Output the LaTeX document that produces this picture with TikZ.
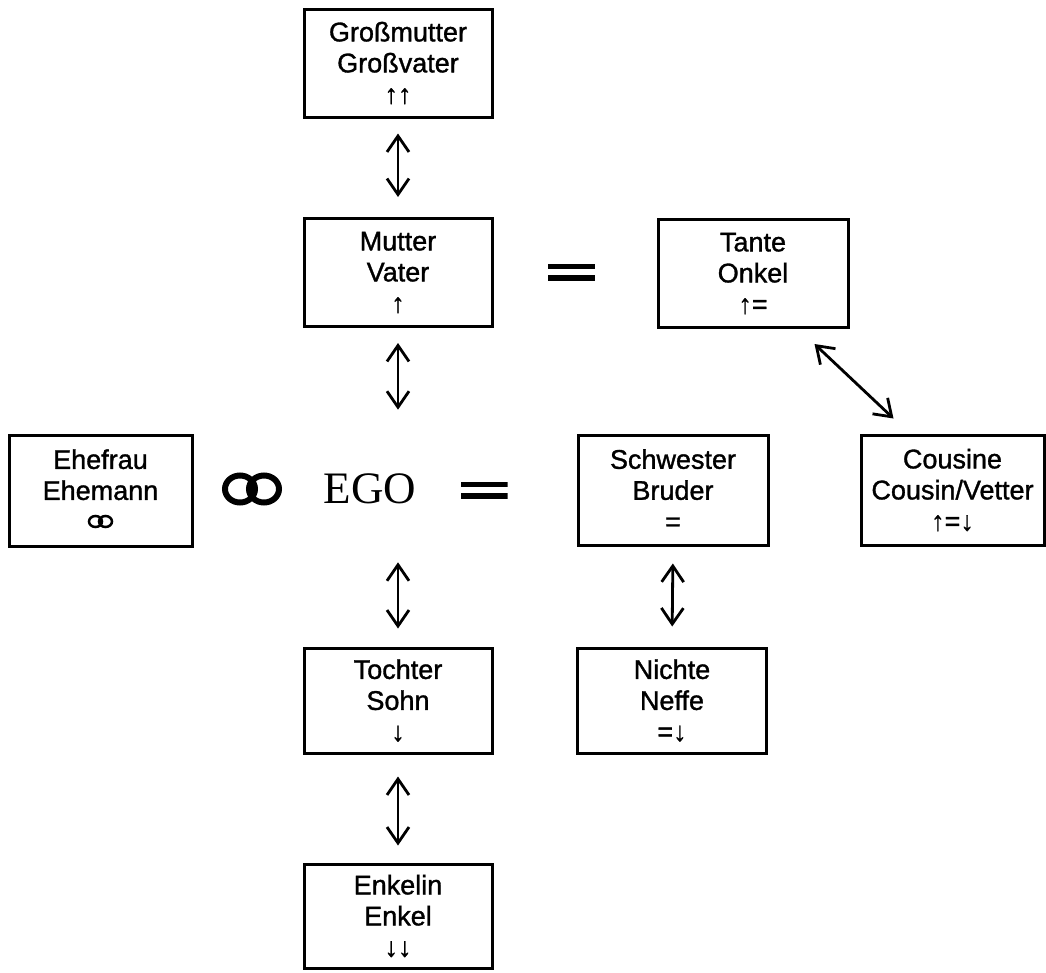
\documentclass[tikz,border=0pt]{standalone}
\usepackage{fontspec}
\setmainfont{Liberation Sans}[BoldFont={Liberation Sans},BoldFeatures={FakeBold=1.2}]
\newfontfamily\egofont{Liberation Serif}
\usetikzlibrary{arrows.meta}
\begin{document}
\begin{tikzpicture}[x=1pt,y=-1pt,
  kbox/.style={draw, line width=3pt, minimum width=188pt, minimum height=108pt,
    align=center, inner sep=0pt, font=\bfseries\fontsize{27}{31}\selectfont},
  dbl/.style={line width=2.8pt,
    {Straight Barb[length=16pt,width=22pt]}-{Straight Barb[length=16pt,width=22pt]}},
  eqnode/.style={inner sep=0pt, minimum width=47pt, minimum height=17pt,
    path picture={
      \fill (path picture bounding box.north west) rectangle ([yshift=-5.5pt]path picture bounding box.north east);
      \fill ([yshift=5.5pt]path picture bounding box.south west) rectangle (path picture bounding box.south east);}},
  ring/.style={line width=6pt},
  smallring/.style={line width=2.5pt},
]
\useasboundingbox (0,0) rectangle (1046,972);

% boxes
\node[kbox] (gm) at (398,63) {Großmutter\\Großvater\\↑↑};
\node[kbox] (mu) at (398,272.5) {Mutter\\Vater\\↑};
\node[kbox, minimum width=190pt] (ta) at (753,273.5) {Tante\\Onkel\\↑=};
\node[kbox, minimum width=183pt, minimum height=111pt] (eh) at (100.5,490.5) {Ehefrau\\Ehemann\\\phantom{↑}};
\node[kbox, minimum width=190pt, minimum height=110pt] (sw) at (673,490) {Schwester\\Bruder\\=};
\node[kbox, minimum width=183pt, minimum height=110pt] (co) at (952.5,490) {Cousine\\Cousin/Vetter\\↑=↓};
\node[kbox, minimum height=105pt] (to) at (398,700.5) {Tochter\\Sohn\\↓};
\node[kbox, minimum width=189pt, minimum height=105pt] (ni) at (672,700.5) {Nichte\\Neffe\\=↓};
\node[kbox, minimum height=104pt] (en) at (398,916) {Enkelin\\Enkel\\↓↓};

% EGO row
\node[inner sep=0pt, font=\egofont\fontsize{45}{45}\selectfont] (ego) at (370,489) {EGO};
\coordinate (rings) at (252,489);
\draw[ring] ([xshift=-12pt]rings) ellipse[x radius=15pt, y radius=13.5pt]
            ([xshift=12pt]rings) ellipse[x radius=15pt, y radius=13.5pt];
\coordinate (srings) at ([yshift=-31pt]eh.center);
\draw[smallring] ([xshift=-5pt]srings) ellipse[x radius=6.5pt, y radius=5.5pt]
                 ([xshift=5pt]srings) ellipse[x radius=6.5pt, y radius=5.5pt];
\node[eqnode] (eq1) at (571.5,272) {};
\node[eqnode] (eq2) at (484,490) {};

% connectors
\draw[dbl, shorten <=15pt, shorten >=20pt] (gm.south) -- (mu.north);
\draw[dbl, shorten <=15pt, shorten >=64pt] (mu.south) -- (mu.south |- ego.north);
\draw[dbl, shorten <=58pt, shorten >=18pt] (to.north |- ego.south) -- (to.north);
\draw[dbl, shorten <=17pt, shorten >=20pt] (sw.south) -- (ni.north);
\draw[dbl, shorten <=22pt, shorten >=17pt] (to.south) -- (en.north);
\draw[dbl] ([xshift=-35pt,yshift=-15pt]ta.south east) -- ([xshift=34pt,yshift=15pt]co.north west);
\end{tikzpicture}
\end{document}
